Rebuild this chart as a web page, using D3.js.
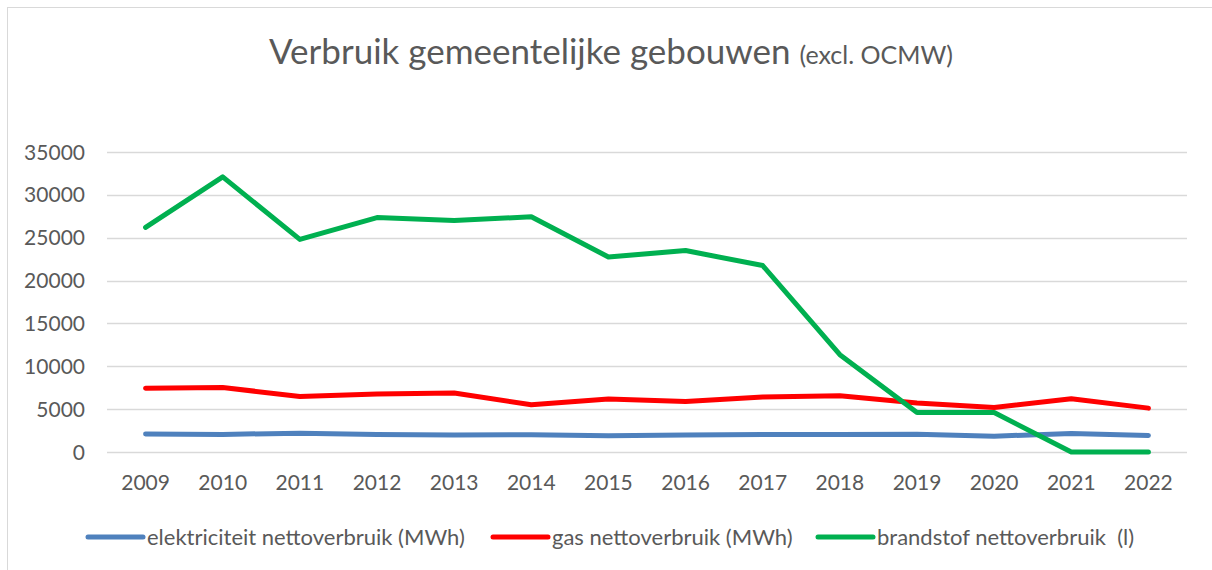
<!DOCTYPE html>
<html>
<head>
<meta charset="utf-8">
<script src="https://cdn.jsdelivr.net/npm/d3@7"></script>
<style>
  body { margin: 0; background: #fff; }
  svg { display: block; font-family: Lato, "Open Sans", sans-serif; }
</style>
</head>
<body>
<div id="chart"></div>
<script>
var years = ["2009","2010","2011","2012","2013","2014","2015","2016","2017","2018","2019","2020","2021","2022"]
var elektriciteit = [2100, 2050, 2200, 2050, 1980, 2020, 1900, 1980, 2050, 2050, 2080, 1850, 2150, 1920]
var gas = [7450, 7520, 6480, 6760, 6880, 5520, 6180, 5900, 6420, 6560, 5720, 5200, 6220, 5120]
var brandstof = [26200, 32100, 24800, 27350, 27000, 27450, 22750, 23500, 21750, 11350, 4620, 4600, 0, 0]
var yTicks = [0, 5000, 10000, 15000, 20000, 25000, 30000, 35000]

var series = [
  {name: "elektriciteit nettoverbruik (MWh)", values: elektriciteit, color: "#4f81bd"},
  {name: "gas nettoverbruik (MWh)", values: gas, color: "#ff0000"},
  {name: "brandstof nettoverbruik  (l)", values: brandstof, color: "#00b050"}
]

var width = 1212, height = 570
var margin = {top: 152, right: 25, bottom: 118, left: 107}

var svg = d3.select("#chart").append("svg")
  .attr("width", width)
  .attr("height", height)

// chart frame
svg.append("rect")
  .attr("x", 7.5).attr("y", 7.5)
  .attr("width", 1300).attr("height", 700)
  .attr("fill", "none")
  .attr("stroke", "#d9d9d9")

var x = d3.scaleBand()
  .domain(years)
  .range([margin.left, width - margin.right])

var y = d3.scaleLinear()
  .domain([0, 35000])
  .range([height - margin.bottom, margin.top])

// title
var title = svg.append("text")
  .attr("x", 611)
  .attr("y", 64)
  .attr("text-anchor", "middle")
  .attr("fill", "#595959")
  .style("white-space", "pre")
title.append("tspan").attr("font-size", 35).text("Verbruik gemeentelijke gebouwen ")
title.append("tspan").attr("font-size", 25).text("(excl. OCMW)")

// gridlines
svg.append("g")
  .selectAll("line")
  .data(yTicks)
  .join("line")
    .attr("x1", margin.left)
    .attr("x2", width - margin.right)
    .attr("y1", d => Math.round(y(d)) + 0.5)
    .attr("y2", d => Math.round(y(d)) + 0.5)
    .attr("stroke", "#d9d9d9")
    .attr("stroke-width", 1.5)

// y labels
svg.append("g")
  .selectAll("text")
  .data(yTicks)
  .join("text")
    .attr("x", 85)
    .attr("y", d => y(d))
    .attr("dy", "0.36em")
    .attr("text-anchor", "end")
    .attr("font-size", 21)
    .attr("fill", "#595959")
    .text(d => d)

// x labels
svg.append("g")
  .selectAll("text")
  .data(years)
  .join("text")
    .attr("x", d => x(d) + x.bandwidth() / 2)
    .attr("y", 490)
    .attr("text-anchor", "middle")
    .attr("font-size", 21)
    .attr("fill", "#595959")
    .text(d => d)

var line = d3.line()
  .x((d, i) => x(years[i]) + x.bandwidth() / 2)
  .y(d => y(d))

svg.append("g")
  .selectAll("path")
  .data(series)
  .join("path")
    .attr("fill", "none")
    .attr("stroke", d => d.color)
    .attr("stroke-width", 5)
    .attr("stroke-linecap", "round")
    .attr("stroke-linejoin", "round")
    .attr("d", d => line(d.values))

// legend
var legendX = [88, 493, 818]
var legend = svg.append("g")
  .selectAll("g")
  .data(series)
  .join("g")
    .attr("transform", (d, i) => `translate(${legendX[i]},537)`)

legend.append("line")
  .attr("x1", 0).attr("x2", 55)
  .attr("stroke", d => d.color)
  .attr("stroke-width", 5)
  .attr("stroke-linecap", "round")

legend.append("text")
  .attr("x", 59)
  .attr("dy", "0.36em")
  .attr("font-size", 22)
  .attr("fill", "#595959")
  .style("white-space", "pre")
  .text(d => d.name)
</script>
</body>
</html>
